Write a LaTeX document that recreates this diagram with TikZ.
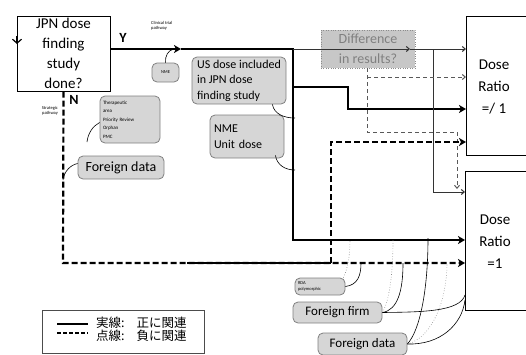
\documentclass[tikz,border=0pt]{standalone}
\usepackage{fontspec}
\setmainfont{Carlito}
\newfontfamily\cjk{Noto Sans CJK JP}
\usetikzlibrary{arrows.meta}

\begin{document}
\begin{tikzpicture}[x=1pt, y=-1pt,
    mainbox/.style={draw, line width=1pt, align=center, inner sep=0pt},
    note/.style={draw=black!50, fill=black!16, rounded corners=5pt, line width=0.8pt, align=left, inner sep=0pt},
    tinytext/.style={font=\fontsize{4.5}{5.5}\selectfont, inner sep=0pt},
    heavy/.style={line width=2.2pt},
    heavydash/.style={line width=2.2pt, dash pattern=on 6pt off 3pt},
    light/.style={line width=1pt, black!80},
    lightdash/.style={line width=1pt, black!65, dash pattern=on 4pt off 3pt},
    callout/.style={line width=0.6pt},
    dotcallout/.style={line width=0.6pt, black!50, dotted},
    bigtip/.style={-{Stealth[length=7pt,width=8pt,inset=2pt]}},
    smalltip/.style={-{Straight Barb[length=3pt,width=5pt]}}]
  \useasboundingbox (0,0) rectangle (526,354);

  % main boxes
  \node[mainbox, minimum width=93pt, minimum height=75pt, font=\fontsize{15}{20}\selectfont] (jpn) at (63.5,53.5) {JPN dose\\finding\\study\\done?};
  \draw[line width=1.2pt, -{Straight Barb[length=4pt,width=9pt]}] (17,36) -- (17,44);
  \node[mainbox, minimum width=74pt, minimum height=139pt, anchor=north west] (ratioA) at (466,16) {};
  \node[mainbox, minimum width=74pt, minimum height=139pt, anchor=north west] (ratioB) at (465,171) {};
  \node[align=center, inner sep=0pt, font=\fontsize{15}{22}\selectfont] (ratioAtxt) at (494,87) {Dose\\Ratio\\=/ 1};
  \node[align=center, inner sep=0pt, font=\fontsize{15}{22}\selectfont] (ratioBtxt) at (495,242) {Dose\\Ratio\\=1};
  \node[draw=black!45, dotted, fill=black!22, text=black!50, align=center, inner sep=0pt,
        minimum width=94pt, minimum height=38pt, font=\fontsize{14}{20}\selectfont] (diff) at (368,49) {Difference\\in results?};

  % labels
  \node[font=\bfseries\fontsize{14}{14}\selectfont, inner sep=0pt] (yes) at (123,38) {Y};
  \node[font=\bfseries\fontsize{14}{14}\selectfont, inner sep=0pt] (no) at (74,100) {N};
  \node[tinytext, align=left, anchor=west] (clinical) at (151,26) {Clinical trial\\pathway};
  \node[tinytext, align=right, anchor=east] (strategic) at (58,111) {Strategic\\pathway};

  % call-out boxes
  \node[note, minimum width=27pt, minimum height=19pt, font=\fontsize{4.5}{5.5}\selectfont, align=center] (nme) at (165.5,72.5) {NME};
  \node[note, minimum width=94pt, minimum height=47pt, font=\fontsize{12}{15.5}\selectfont] (usdose) at (239,80.5) {US dose included\\in JPN dose\hspace*{26pt}\\finding study\hspace*{13pt}};
  \node[note, minimum width=74pt, minimum height=43pt, text width=66pt, font=\fontsize{12}{16}\selectfont] (unitdose) at (247,136.5) {NME\\Unit dose};
  \node[note, minimum width=60pt, minimum height=47pt, text width=54pt, font=\fontsize{5}{8.5}\selectfont] (therapy) at (130,119.5) {Therapeutic\\area\\Priority Review\\Orphan\\PMC};
  \node[note, minimum width=86pt, minimum height=23pt, align=center, font=\fontsize{14}{16}\selectfont] (foreignL) at (121,167.5) {Foreign data};
  \node[note, minimum width=50pt, minimum height=17pt, text width=44pt, font=\fontsize{4.5}{5.5}\selectfont] (rda) at (320,286.5) {RDA\\polymorphic};
  \node[note, minimum width=89pt, minimum height=21pt, align=center, font=\fontsize{13}{15}\selectfont] (firm) at (337.5,312.5) {Foreign firm};
  \node[note, minimum width=89pt, minimum height=22pt, align=center, font=\fontsize{13}{15}\selectfont] (foreignB) at (362.5,344) {Foreign data};

  % turning points
  \coordinate (ystart) at (110,49);
  \coordinate (ymid) at (181,49);
  \coordinate (ycorner) at (293,49);
  \coordinate (ydown) at (293,240);
  \coordinate (ybranch) at (293,87);
  \coordinate (ystep) at (348,87);
  \coordinate (ystepdown) at (348,109);
  \coordinate (diffend) at (410,49);
  \coordinate (split) at (433,49);
  \coordinate (splitdown) at (433,192);
  \coordinate (dtop) at (367,68);
  \coordinate (dbranch) at (367,77);
  \coordinate (dbottom) at (367,132);
  \coordinate (dright) at (457,132);
  \coordinate (darrow) at (457,189);
  \coordinate (ncorner) at (63,263);
  \coordinate (nsolid) at (187,263);
  \coordinate (nup) at (331,263);
  \coordinate (ntop) at (331,142);

  % Y pathway
  \draw[heavy, bigtip] (ystart) -- (ymid);
  \draw[heavy, bigtip] (ymid) -- (ycorner) -- (ydown) -- (ratioB.west |- ydown);
  \draw[heavy, bigtip] (ybranch) -- (ystep) -- (ystepdown) -- (ratioA.west |- ystepdown);
  \draw[light, smalltip] (ycorner) -- (diffend);
  \draw[light, smalltip] (diffend) -- (ratioA.west |- diffend);
  \draw[light, smalltip] (split) -- (splitdown) -- (ratioB.west |- splitdown);
  \draw[lightdash, smalltip] (dbranch) -- (ratioA.west |- dbranch);
  \draw[lightdash, smalltip] (dtop) -- (dbottom) -- (dright) -- (darrow);

  % N pathway
  \draw[heavydash, bigtip] (jpn.south) -- (ncorner) -- (ratioB.west |- ncorner);
  \draw[heavydash, bigtip] (nup) -- (ntop) -- (ratioA.west |- ntop);
  \draw[heavy] (nsolid) -- (nup);

  % call-out lines
  \draw[callout] (nme.north) .. controls (165,56) and (168,50) .. (174,49);
  \draw[callout] (usdose.south east) ++(-14,0) .. controls (274,114) and (284,118) .. (295,118);
  \draw[callout] (unitdose.south east) ++(-9,-3) .. controls (277,165) and (285,170) .. (295,170);
  \draw[callout] (therapy.west) ++(0,3) .. controls (93,126) and (88,133) .. (87,142);
  \draw[callout] (foreignL.west) ++(0,-4) .. controls (70,165) and (64,172) .. (63,180);
  \draw[callout] (rda.east) .. controls (358,285) and (361,275) .. (361,263);
  \draw[dotcallout] (rda.north east) ++(-2,0) .. controls (348,268) and (350,255) .. (350,240);
  \draw[callout] (firm.east) .. controls (398,310) and (403,290) .. (403,263);
  \draw[dotcallout] (firm.east) .. controls (390,300) and (393,270) .. (393,240);
  \draw[callout] (firm.east) .. controls (420,312) and (460,312) .. (465,295);
  \draw[callout] (foreignB.east) .. controls (420,330) and (428,290) .. (428,238);
  \draw[dotcallout] (foreignB.east) .. controls (432,338) and (447,300) .. (447,263);
  \draw[callout] (foreignB.east) .. controls (440,345) and (462,325) .. (465,300);

  % legend
  \node[draw=black!70, line width=1pt, minimum width=162pt, minimum height=43pt, inner sep=0pt] (legend) at (123,331.5) {};
  \draw[line width=1.5pt] (57,324) -- (88,324);
  \draw[line width=1.5pt, dash pattern=on 4pt off 2pt] (57,333) -- (88,333);
  \node[anchor=west, align=left, inner sep=0pt, font=\cjk\fontsize{12.5}{9.5}\selectfont] (legendtxt) at (96,329) {実線:\hspace{12pt}正に関連\\点線:\hspace{12pt}負に関連};
\end{tikzpicture}
\end{document}
